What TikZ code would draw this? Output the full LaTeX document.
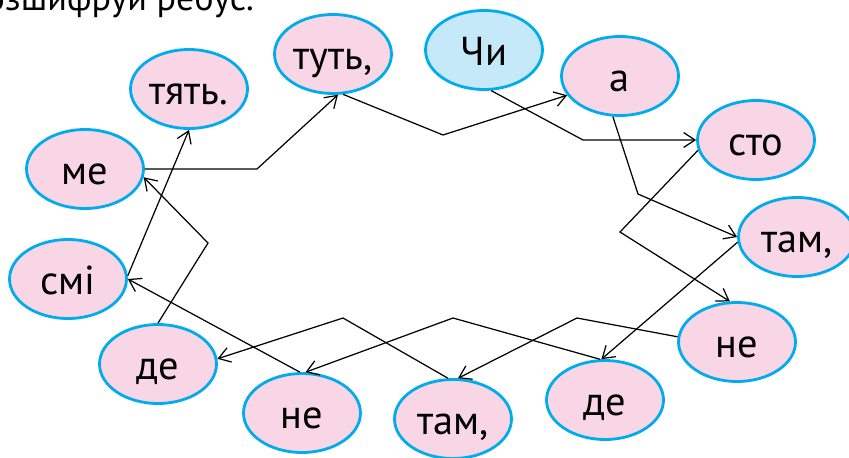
\documentclass[tikz,border=0pt]{standalone}
\usepackage{fontspec}
\setmainfont{PT Sans}
\usepackage{xcolor}
\usetikzlibrary{shapes.geometric,arrows.meta}
\definecolor{wordpink}{RGB}{249,214,230}
\definecolor{startblue}{RGB}{198,233,249}
\definecolor{ringblue}{RGB}{0,172,236}

\begin{document}
\begin{tikzpicture}[
    x=0.02cm,
    y=-0.02cm,
    every node/.style={font=\fontsize{23}{27}\selectfont},
    word/.style={ellipse, draw=ringblue, line width=1.6pt, fill=wordpink, minimum width=2.34cm, minimum height=1.58cm, inner sep=0pt, text height=18pt, text depth=0pt},
    startword/.style={word, fill=startblue},
    arrow/.style={-{Straight Barb[length=6.5pt,width=8.5pt]}, line width=0.7pt}
]
\useasboundingbox (0,0) rectangle (849,457);
\clip (0,0) rectangle (849,457);

\node[anchor=base east, font=\fontsize{20.5}{24}\selectfont] (title) at (260,10) {Розшифруй ребус.};

\node[startword] (chi) at (484,50) {Чи};
\node[word] (sto) at (756,140) {сто};
\node[word] (ne1) at (737,342) {не};
\node[word] (tam1) at (453,419) {там,};
\node[word] (de1) at (158,364) {де};
\node[word] (me) at (85,169) {ме};
\node[word] (tut) at (333,54) {туть,};
\node[word] (a) at (620,76) {а};
\node[word] (tam2) at (797,237) {там,};
\node[word] (de2) at (605,400) {де};
\node[word] (ne2) at (302,413) {не};
\node[word] (smi) at (68,279) {смі};
\node[word] (tyat) at (189,89) {тять.};

\coordinate (b1) at (583,140);
\coordinate (b2) at (620,232);
\coordinate (b3) at (577,318);
\coordinate (b4) at (343,318);
\coordinate (b5) at (208,243);
\coordinate (b6) at (257,169);
\coordinate (b7) at (443,135);
\coordinate (b8) at (638,194);
\coordinate (b9) at (453,318);

\foreach \a/\p/\b in {chi.-80/b1/sto.west,sto.190/b2/ne1.100,ne1.175/b3/tam1.83,
  tam1.97/b4/de1.5,de1.north/b5/me.-8,me.east/b6/tut.-83,tut.-76/b7/a.200,
  a.-100/b8/tam2.west,de2.97/b9/ne2.85}
  \draw[arrow] (\a) -- (\p) -- (\b);

\draw[arrow] (tam2.185) -- (de2.95);
\draw[arrow] (ne2.93) -- (smi.east);
\draw[arrow] (smi.3) -- (tyat.south);
\end{tikzpicture}
\end{document}
